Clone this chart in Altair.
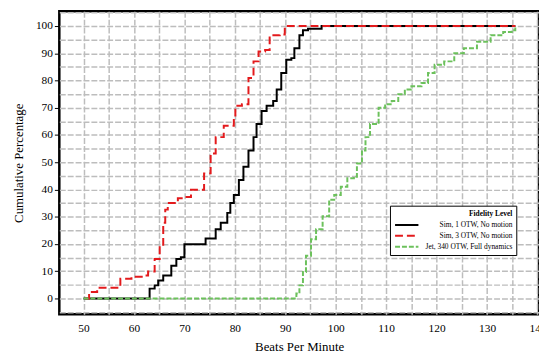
import altair as alt
import pandas as pd

series_names = ["Sim, 1 OTW, No motion", "Sim, 3 OTW, No motion", "Jet, 340 OTW, Full dynamics"]
series_colors = ["#000000", "#e31a1c", "#6cc15c"]
series_dashes = [[1, 0], [8, 4], [5, 2]]

black_x = [50, 62.9, 63.1, 64.1, 64.8, 65.8, 67.4, 68.4, 69.3, 70.0, 74.2, 76.2, 77.2, 78.5, 79.1, 79.8,
           80.8, 81.7, 82.7, 83.7, 84.3, 85.3, 86.3, 87.6, 88.3, 89.2, 90.2, 91.2, 91.8, 92.8, 93.5, 94.5,
           97.2, 135.6]
black_y = [0, 0, 3.6, 4.8, 6.6, 8.4, 12.0, 14.5, 15.1, 19.9, 22.0, 25.4, 27.8, 31.4, 35.0, 38.0,
           43.5, 48.3, 54.3, 59.2, 64.0, 68.8, 70.7, 72.5, 76.7, 82.7, 87.6, 88.2, 91.8, 96.6, 98.4, 99.0,
           100, 100]

red_x = [50.4, 51.1, 52.7, 57.3, 59.5, 61.8, 62.8, 64.1, 65.1, 65.8, 66.2, 66.7, 68.7, 70.0, 71.3, 73.9,
         75.2, 76.2, 77.8, 79.8, 80.1, 81.4, 82.7, 83.7, 84.7, 86.0, 86.9, 88.9, 89.9, 135.6]
red_y = [0, 2.4, 3.9, 7.2, 8.0, 8.4, 9.9, 14.5, 19.3, 27.8, 32.6, 35.0, 36.8, 37.2, 39.9, 45.9,
         53.2, 59.2, 63.4, 66.4, 70.7, 71.3, 80.9, 87.0, 90.6, 91.2, 96.6, 96.9, 100, 100]

green_x = [50, 90.5, 92.2, 92.8, 93.5, 94.1, 95.1, 96.1, 97.4, 98.7, 99.7, 101.0, 102.3, 103.6, 104.2,
           105.2, 105.9, 106.8, 108.5, 109.8, 111.1, 112.4, 113.7, 115.0, 117.0, 118.3, 119.6, 121.5,
           123.5, 125.4, 128.0, 130.7, 133.2, 134.9, 135.6]
green_y = [0, 0, 1.8, 4.8, 9.7, 15.7, 21.7, 25.4, 30.2, 36.2, 38.0, 41.0, 44.1, 44.7, 49.5,
           54.3, 59.2, 64.0, 70.0, 71.3, 72.5, 74.9, 76.7, 77.9, 79.1, 82.7, 85.8, 87.0,
           90.0, 91.8, 94.2, 96.6, 97.8, 98.4, 100]

x_grid = list(range(45, 141, 5))
y_grid = list(range(-5, 106, 5))

def frame(xs, ys, name):
    return pd.DataFrame({"bpm": xs, "pct": ys, "level": name})

FONT = "Liberation Serif"

x_enc = alt.X("bpm:Q", title="Beats Per Minute",
              scale=alt.Scale(domain=[45.2, 140.3], nice=False, zero=False),
              axis=alt.Axis(values=x_grid, labelExpr="datum.value % 10 === 0 ? datum.label : ''",
                            tickSize=0, labelPadding=8, titlePadding=7, domain=False,
                            grid=True, gridColor="#bdbdbd", gridDash=[6, 2], gridWidth=1.5,
                            labelFont=FONT, titleFont=FONT, labelFontSize=11.5, titleFontSize=13,
                            titleFontWeight="normal", labelColor="#000", titleColor="#000"))
y_enc = alt.Y("pct:Q", title="Cumulative Percentage",
              scale=alt.Scale(domain=[-5.8, 105.4], nice=False, zero=False),
              axis=alt.Axis(values=y_grid, labelExpr="datum.value % 10 === 0 ? datum.label : ''",
                            tickSize=5, tickColor="#000",
                            tickOpacity={"condition": {"test": "datum.value % 10 === 0", "value": 1}, "value": 0},
                            labelPadding=2, titlePadding=10, domain=False,
                            grid=True, gridColor="#bdbdbd", gridDash=[6, 2], gridWidth=1.5,
                            labelFont=FONT, titleFont=FONT, labelFontSize=11.5, titleFontSize=13,
                            titleFontWeight="normal", labelColor="#000", titleColor="#000"))

color_enc = alt.Color("level:N", scale=alt.Scale(domain=series_names, range=series_colors),
                      legend=alt.Legend(title="Fidelity Level", orient="none", legendX=335, legendY=197,
                                        symbolType="M-2,0L2,0", symbolSize=140, symbolStrokeWidth=2,
                                        symbolOffset=6,
                                        labelFont=FONT, titleFont=FONT, labelFontSize=7.5, titleFontSize=7.5,
                                        labelAlign="right", labelOffset=100,
                                        titleAnchor="end", titleFontWeight="bold",
                                        labelColor="#000", titleColor="#000",
                                        strokeColor="#000", fillColor="#fff", padding=4,
                                        rowPadding=-1, titlePadding=1))
dash_enc = alt.StrokeDash("level:N", scale=alt.Scale(domain=series_names, range=series_dashes), legend=None)

def line(df):
    return alt.Chart(df).mark_line(interpolate="step-after", strokeWidth=2).encode(
        x=x_enc, y=y_enc, color=color_enc, strokeDash=dash_enc)

chart = alt.layer(
    line(frame(black_x, black_y, series_names[0])),
    line(frame(red_x, red_y, series_names[1])),
    line(frame(green_x, green_y, series_names[2])),
).properties(
    width=486, height=307,
    autosize=alt.AutoSizeParams(type="none"),
    padding={"left": 52, "top": 1, "right": 0, "bottom": 39},
    background="white",
).configure_view(stroke="#000", strokeWidth=2.5)

chart.save("out.html", embed_options={"renderer": "svg", "actions": False})
